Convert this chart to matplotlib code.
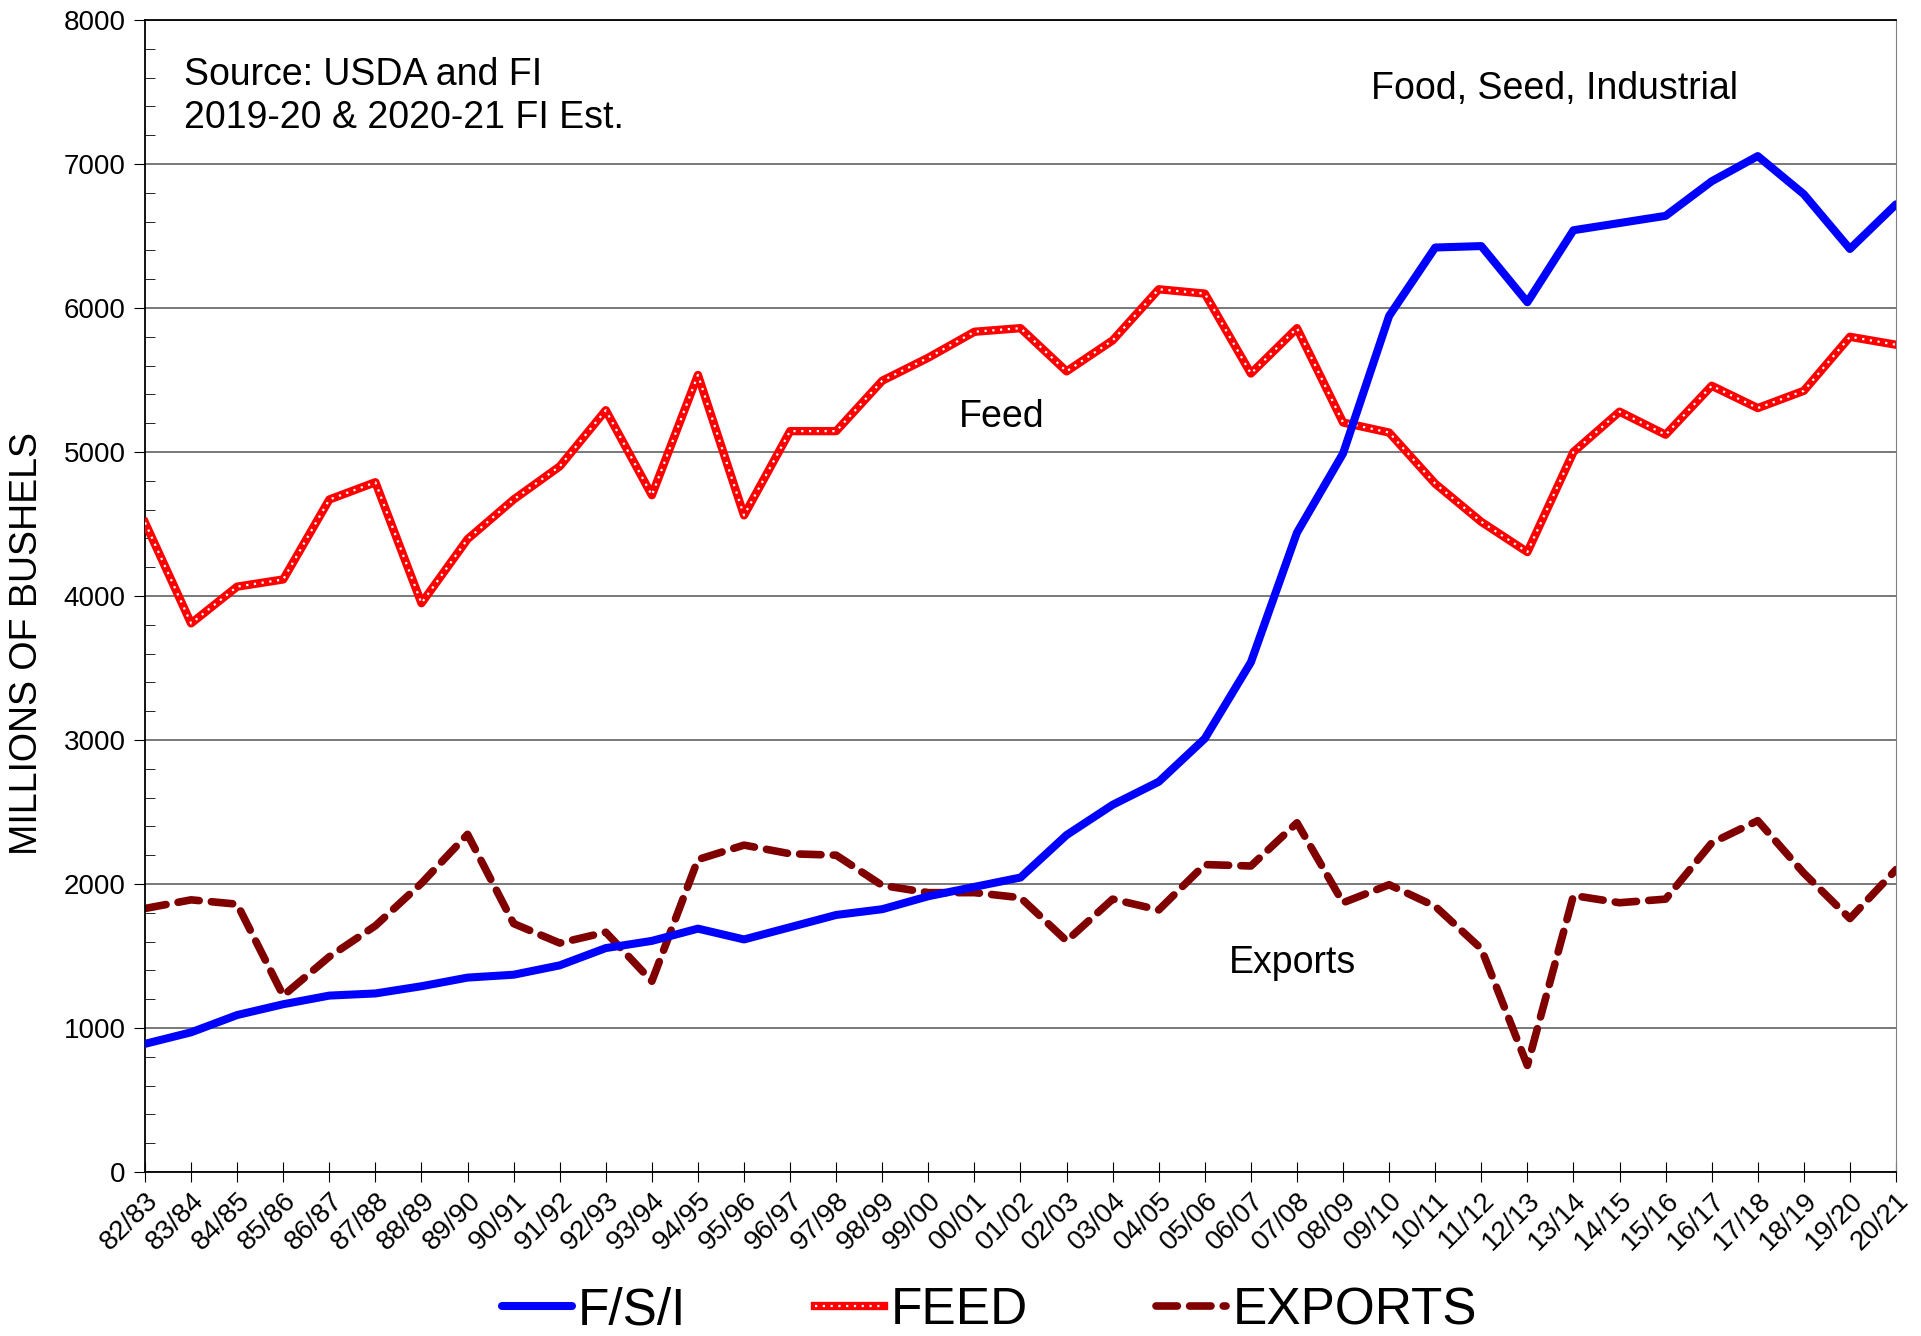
import numpy as np
import matplotlib
matplotlib.use("Agg")
import matplotlib.pyplot as plt
from matplotlib.ticker import MultipleLocator

plt.rcParams['font.family'] = ['Liberation Sans', 'DejaVu Sans']

# marketing years
years = ["82/83", "83/84", "84/85", "85/86", "86/87", "87/88", "88/89", "89/90",
         "90/91", "91/92", "92/93", "93/94", "94/95", "95/96", "96/97", "97/98",
         "98/99", "99/00", "00/01", "01/02", "02/03", "03/04", "04/05", "05/06",
         "06/07", "07/08", "08/09", "09/10", "10/11", "11/12", "12/13", "13/14",
         "14/15", "15/16", "16/17", "17/18", "18/19", "19/20", "20/21"]

# millions of bushels
fsi = [890, 970, 1090, 1165, 1225, 1240, 1290, 1350, 1370, 1435, 1555, 1605,
       1690, 1615, 1700, 1785, 1825, 1915, 1980, 2045, 2340, 2550, 2710, 3010,
       3540, 4440, 4990, 5945, 6420, 6430, 6040, 6540, 6590, 6640, 6880, 7055,
       6790, 6410, 6720]
feed = [4510, 3810, 4065, 4115, 4670, 4790, 3950, 4395, 4670, 4900, 5290, 4700,
        5535, 4560, 5145, 5145, 5495, 5655, 5835, 5860, 5560, 5775, 6130, 6100,
        5545, 5860, 5205, 5135, 4780, 4515, 4305, 5000, 5280, 5120, 5460, 5305,
        5425, 5800, 5745]
exports = [1830, 1890, 1860, 1225, 1495, 1710, 2005, 2345, 1725, 1590, 1665, 1325,
           2170, 2270, 2210, 2200, 1990, 1940, 1940, 1905, 1605, 1895, 1820, 2135,
           2125, 2425, 1870, 1995, 1845, 1550, 740, 1920, 1870, 1895, 2285, 2440,
           2075, 1760, 2100]

x = np.arange(len(years))

fig = plt.figure(figsize=(19.21, 13.36), dpi=100)
ax = fig.add_axes([145/1921, 1 - 1172/1336, (1896-145)/1921, (1172-20)/1336])

l1, = ax.plot(x, fsi, color='#0000ff', lw=5.8, solid_capstyle='round', zorder=4)
l2a, = ax.plot(x, feed, color='#ff0000', lw=6.0, zorder=3)
l2b, = ax.plot(x, feed, color='white', lw=1.6, ls=(0, (1, 2.5)), zorder=3)
l3, = ax.plot(x, exports, color='#800000', lw=5.5, ls=(0, (2.8, 1.6)),
              dash_capstyle='round', zorder=2)

ax.set_xlim(0, len(years) - 1)
ax.set_ylim(0, 8000)
ax.yaxis.set_major_locator(MultipleLocator(1000))
ax.yaxis.set_minor_locator(MultipleLocator(200))
ax.set_xticks(x)
ax.set_xticklabels(years, rotation=45, ha='right', rotation_mode='anchor')
ax.tick_params(axis='y', which='major', direction='out', length=8, labelsize=20, pad=6)
ax.tick_params(axis='y', which='minor', direction='in', length=7)
ax.tick_params(axis='x', direction='inout', length=14, labelsize=20, pad=4)
ax.grid(axis='y', which='major', color='#6e6e6e', lw=1.3)
ax.spines['top'].set_linewidth(1.3)
ax.spines['right'].set_color('#808080')
ax.spines['left'].set_linewidth(1.3)
ax.spines['bottom'].set_linewidth(1.3)

fig.text(27/1921, 0.518, "MILLIONS OF BUSHELS", rotation=90, va='center',
         ha='center', fontsize=27)

ax.text(0.0225, 0.968, "Source: USDA and FI\n2019-20 & 2020-21 FI Est.",
        transform=ax.transAxes, fontsize=27, va='top', linespacing=1.25)
ax.text(0.805, 0.94, "Food, Seed, Industrial", transform=ax.transAxes,
        fontsize=27, ha='center', va='center')
ax.text(18.6, 5240, "Feed", fontsize=27, ha='center', va='center')
ax.text(24.9, 1450, "Exports", fontsize=27, ha='center', va='center')

fig.legend([l1, (l2a, l2b), l3], ["F/S/I", "FEED", "EXPORTS"],
           loc='lower center', bbox_to_anchor=(0.515, -0.034), ncol=3,
           frameon=False, fontsize=37, handlelength=1.36, handletextpad=0.12,
           columnspacing=2.5)

fig.savefig("out.png", dpi=100)
